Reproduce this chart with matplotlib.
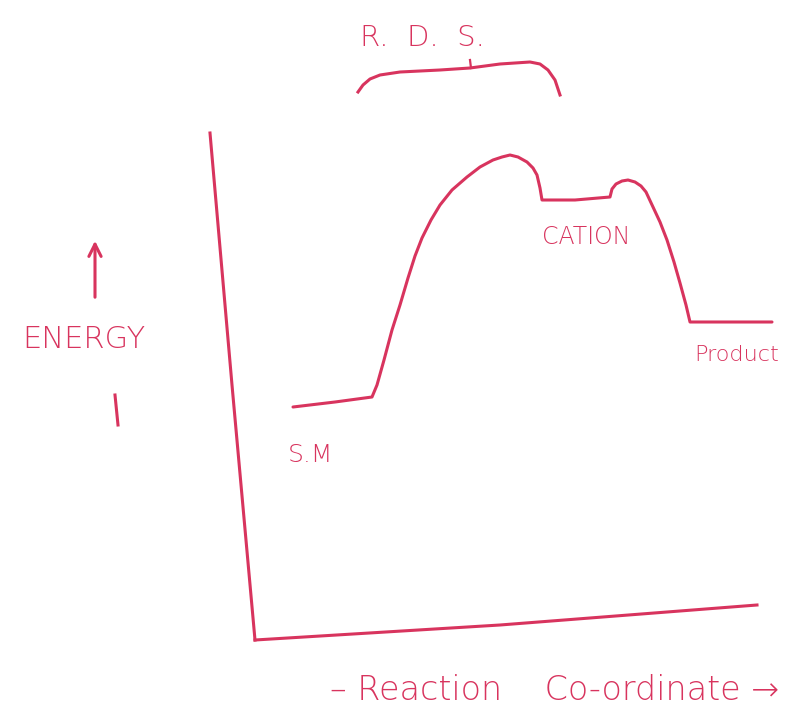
import matplotlib
matplotlib.use("Agg")
import matplotlib.pyplot as plt

INK = "#d8345e"

# energy profile (page x, page y in px, y downwards)
profile_x = [293, 335, 372, 377, 384, 392, 400, 408, 415, 422, 431, 440, 452, 467, 480, 493,
             502, 510, 518, 527, 533, 537, 540, 542, 575, 610, 612, 616, 622, 628, 635, 641,
             646, 653, 660, 667, 674, 680, 686, 690, 730, 772]
profile_y = [407, 402, 397, 385, 360, 330, 305, 278, 256, 238, 220, 205, 190, 177, 167, 160,
             157, 155, 157, 162, 168, 175, 188, 200, 200, 197, 189, 184, 181, 180, 182, 186,
             192, 207, 222, 240, 262, 283, 305, 322, 322, 322]

# hand-drawn axes
yaxis_x = [210, 232, 255]
yaxis_y = [133, 385, 640]
xaxis_x = [255, 500, 757]
xaxis_y = [640, 625, 605]

# brace above the rate-determining step
brace_x = [358, 363, 370, 380, 400, 440, 470, 500, 530, 540, 548, 555, 560]
brace_y = [92, 85, 79, 75, 72, 70, 68, 64, 62, 64, 70, 80, 95]

labels = ["S.M", "CATION", "Product"]
label_pos = [(310, 455), (586, 237), (737, 355)]
label_size = [18, 17, 16]

fig = plt.figure(figsize=(8.02, 7.13), dpi=100)
ax = fig.add_axes([0, 0, 1, 1])
ax.set_xlim(0, 802)
ax.set_ylim(713, 0)
ax.axis("off")

lw = 2.2
ax.plot(profile_x, profile_y, color=INK, lw=lw, solid_capstyle="round", solid_joinstyle="round")
ax.plot(yaxis_x, yaxis_y, color=INK, lw=lw)
ax.plot(xaxis_x, xaxis_y, color=INK, lw=lw)
ax.plot(brace_x, brace_y, color=INK, lw=lw, solid_joinstyle="round")
ax.plot([470, 471], [60, 68], color=INK, lw=1.6)

# energy arrow
ax.annotate("", xy=(95, 238), xytext=(95, 300),
            arrowprops=dict(arrowstyle="->", color=INK, lw=lw, mutation_scale=22))
ax.plot([115, 118], [395, 425], color=INK, lw=lw)

font = dict(color=INK, family="DejaVu Sans", fontweight="light")
ax.text(84, 340, "ENERGY", fontsize=22, ha="center", va="center", **font)
ax.text(422, 38, "R.  D.  S.", fontsize=21, ha="center", va="center", **font)
for lab, (px, py), fs in zip(labels, label_pos, label_size):
    ax.text(px, py, lab, fontsize=fs, ha="center", va="center", **font)
ax.text(555, 690, "– Reaction    Co-ordinate →", fontsize=24, ha="center", va="center", **font)

fig.savefig("out.png", dpi=100, facecolor="white")
